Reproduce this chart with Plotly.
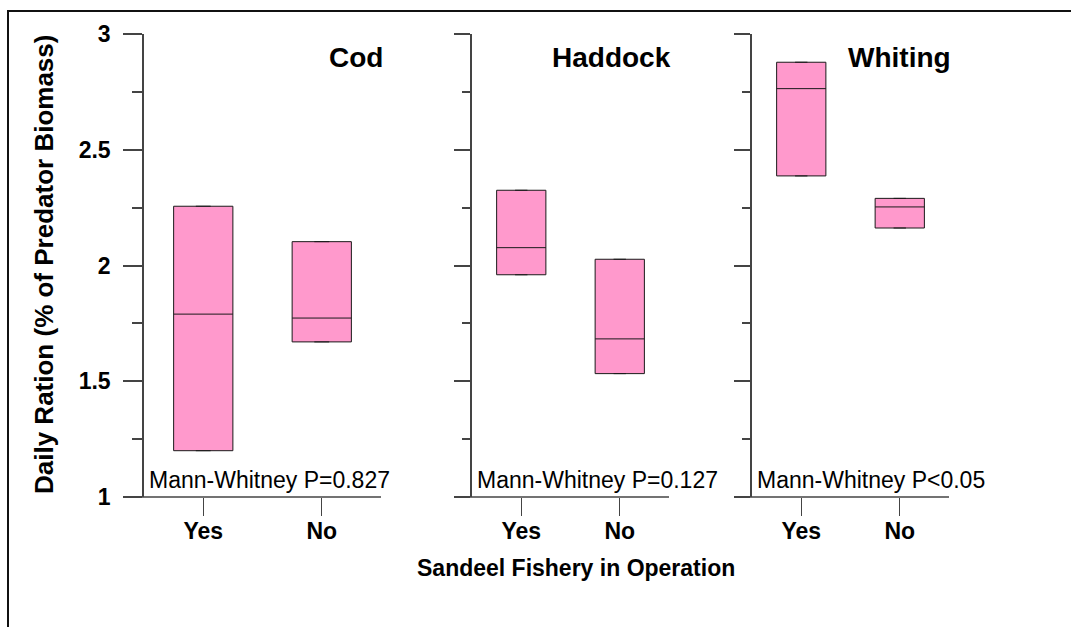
import plotly.graph_objects as go

# Daily ration (% of predator biomass) by species, with / without sandeel fishery
species = ["Cod", "Haddock", "Whiting"]
categories = ["Yes", "No"]
q1 = {"Cod": [1.20, 1.67], "Haddock": [1.96, 1.533], "Whiting": [2.387, 2.162]}
median = {"Cod": [1.79, 1.773], "Haddock": [2.077, 1.683], "Whiting": [2.764, 2.253]}
q3 = {"Cod": [2.256, 2.103], "Haddock": [2.325, 2.027], "Whiting": [2.878, 2.29]}
p_values = ["Mann-Whitney P=0.827", "Mann-Whitney P=0.127", "Mann-Whitney P<0.05"]

y_ticks = [1, 1.5, 2, 2.5, 3]
y_tick_text = ["1", "1.5", "2", "2.5", "3"]

W, H = 1071, 627
FONT = "Liberation Sans, Arial, sans-serif"
AXIS_COL = "#444444"
BOX_FILL = "#FF99CC"

# panel placement in pixels (left edge, right edge), y from bottom(1) to top(3)
panels_px = [(144, 381), (472, 669), (752, 949)]
y_bottom_px, y_top_px = 497, 34


def px_x(v):
    return v / W


def px_y(v):
    return 1 - v / H


fig = go.Figure()
layout = dict(
    width=W, height=H,
    margin=dict(l=0, r=0, t=0, b=0, pad=0, autoexpand=False),
    paper_bgcolor="white", plot_bgcolor="white",
    showlegend=False,
    font=dict(family=FONT, color="black"),
    annotations=[], shapes=[],
)

for i, sp in enumerate(species):
    n = "" if i == 0 else str(i + 1)
    xa, ya = "x" + n, "y" + n
    x0, x1 = panels_px[i]
    fig.add_trace(go.Box(
        x=categories,
        q1=q1[sp], median=median[sp], q3=q3[sp],
        lowerfence=q1[sp], upperfence=q3[sp],
        width=0.5, whiskerwidth=0.25,
        fillcolor=BOX_FILL,
        line=dict(color="#1a1a1a", width=1),
        boxpoints=False,
        xaxis=xa, yaxis=ya,
        hoverinfo="skip",
    ))
    major_len = 19 if i == 0 else 16
    minor_len = 10 if i == 0 else 8
    layout["xaxis" + n] = dict(
        domain=[px_x(x0), px_x(x1)],
        range=[-0.5, 1.5],
        type="category",
        categoryorder="array", categoryarray=categories,
        anchor=ya,
        automargin=False,
        showline=False, showgrid=False, zeroline=False,
        ticks="outside", ticklen=18, tickwidth=1, tickcolor=AXIS_COL,
        ticklabelstandoff=-5,
        tickfont=dict(family=FONT, size=23, color="black", weight="bold"),
        fixedrange=True,
    )
    layout["yaxis" + n] = dict(
        domain=[px_y(y_bottom_px), px_y(y_top_px)],
        range=[1, 3],
        anchor=xa,
        automargin=False,
        showline=True, linecolor=AXIS_COL, linewidth=1.5,
        showgrid=False, zeroline=False,
        ticks="outside", ticklen=major_len, tickwidth=1.5, tickcolor=AXIS_COL,
        tickvals=y_ticks, ticktext=y_tick_text,
        showticklabels=(i == 0),
        ticklabelstandoff=8,
        tickfont=dict(family=FONT, size=23, color="black", weight="bold"),
        minor=dict(ticks="outside", ticklen=minor_len, tickwidth=1.5,
                   tickcolor=AXIS_COL, dtick=0.25, tick0=1),
        fixedrange=True,
    )
    # bottom axis line, extended left to the major tick length
    layout["shapes"].append(dict(
        type="line", xref="paper", yref="paper",
        x0=px_x(x0 - major_len), x1=px_x(x1),
        y0=px_y(y_bottom_px), y1=px_y(y_bottom_px),
        line=dict(color=AXIS_COL, width=1.5),
    ))
    # species name
    layout["annotations"].append(dict(
        text=f"<b>{sp}</b>", xref="paper", yref="paper",
        x=px_x(x1 + 4), y=px_y(58), xanchor="right", yanchor="middle",
        showarrow=False, font=dict(family=FONT, size=28, color="black"),
    ))
    # test result
    layout["annotations"].append(dict(
        text=p_values[i], xref="paper", yref="paper",
        x=px_x(x0 + 3), y=px_y(495), xanchor="left", yanchor="bottom",
        showarrow=False, font=dict(family=FONT, size=23, color="black"),
    ))

# axis titles
layout["annotations"].append(dict(
    text="<b>Sandeel Fishery in Operation</b>", xref="paper", yref="paper",
    x=px_x(576), y=px_y(568), xanchor="center", yanchor="middle",
    showarrow=False, font=dict(family=FONT, size=23, color="black"),
))
layout["annotations"].append(dict(
    text="<b>Daily Ration (% of Predator Biomass)</b>", xref="paper", yref="paper",
    x=px_x(44), y=px_y(265), xanchor="center", yanchor="middle", textangle=-90,
    showarrow=False, font=dict(family=FONT, size=26, color="black"),
))

# outer frame (left and top edges visible)
layout["shapes"].append(dict(
    type="rect", xref="paper", yref="paper",
    x0=px_x(8), y0=-0.05, x1=1.05, y1=px_y(11),
    line=dict(color="#111111", width=2), fillcolor="rgba(0,0,0,0)",
))

fig.update_layout(**layout)
fig.write_html("out.html")
